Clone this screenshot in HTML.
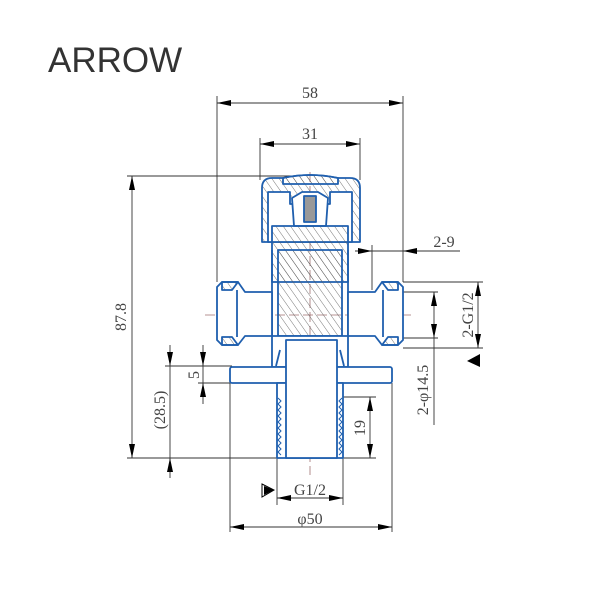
<!DOCTYPE html>
<html><head><style>
html,body{margin:0;padding:0;background:#fff;width:600px;height:600px;overflow:hidden}
svg{display:block}
</style></head><body>
<svg width="600" height="600" viewBox="0 0 600 600" xmlns="http://www.w3.org/2000/svg">
<defs>
<pattern id="h" width="6" height="6" patternUnits="userSpaceOnUse" patternTransform="rotate(-35)"><line x1="0" y1="0" x2="0" y2="6" stroke="#555" stroke-width="0.8"/></pattern>
<marker id="a" viewBox="0 0 14 6" refX="14" refY="3" markerWidth="14" markerHeight="6" orient="auto-start-reverse" markerUnits="userSpaceOnUse"><path d="M0,0 L14,3 L0,6 z" fill="#000"/></marker>
</defs>
<text x="48" y="72" font-family="Liberation Sans, sans-serif" font-size="35" fill="#333">ARROW</text>

<g stroke="#333" stroke-width="0.9" fill="none">
<line x1="217" y1="96" x2="217" y2="282"/>
<line x1="403" y1="96" x2="403" y2="282"/>
<line x1="260" y1="138" x2="260" y2="180"/>
<line x1="360" y1="138" x2="360" y2="180"/>
<line x1="127" y1="176" x2="300" y2="176"/>
<line x1="127" y1="458" x2="277" y2="458"/>
<line x1="165" y1="366" x2="232" y2="366"/>
<line x1="198" y1="383" x2="232" y2="383"/>
<line x1="343" y1="397" x2="376" y2="397"/>
<line x1="343" y1="458" x2="376" y2="458"/>
<line x1="277" y1="458" x2="277" y2="505"/>
<line x1="343" y1="458" x2="343" y2="505"/>
<line x1="230" y1="383" x2="230" y2="532"/>
<line x1="392" y1="383" x2="392" y2="532"/>
<line x1="372" y1="245" x2="372" y2="290"/>
<line x1="403" y1="282" x2="483" y2="282"/>
<line x1="403" y1="348" x2="483" y2="348"/>
<line x1="403" y1="292" x2="438" y2="292"/>
<line x1="403" y1="338" x2="438" y2="338"/>
<line x1="434" y1="338" x2="434" y2="425"/>
<line x1="217" y1="103" x2="403" y2="103" marker-start="url(#a)" marker-end="url(#a)"/>
<line x1="260" y1="144" x2="360" y2="144" marker-start="url(#a)" marker-end="url(#a)"/>
<line x1="132" y1="176" x2="132" y2="458" marker-start="url(#a)" marker-end="url(#a)"/>
<line x1="170" y1="345" x2="170" y2="366" marker-end="url(#a)"/>
<line x1="170" y1="366" x2="170" y2="458"/>
<line x1="170" y1="478" x2="170" y2="458" marker-end="url(#a)"/>
<line x1="203" y1="345" x2="203" y2="366" marker-end="url(#a)"/>
<line x1="203" y1="366" x2="203" y2="383"/>
<line x1="203" y1="404" x2="203" y2="383" marker-end="url(#a)"/>
<line x1="370" y1="397" x2="370" y2="458" marker-start="url(#a)" marker-end="url(#a)"/>
<line x1="277" y1="498" x2="343" y2="498" marker-start="url(#a)" marker-end="url(#a)"/>
<line x1="230" y1="527" x2="392" y2="527" marker-start="url(#a)" marker-end="url(#a)"/>
<line x1="478" y1="282" x2="478" y2="348" marker-start="url(#a)" marker-end="url(#a)"/>
<line x1="434" y1="292" x2="434" y2="338" marker-start="url(#a)" marker-end="url(#a)"/>
<line x1="355" y1="251" x2="372" y2="251" marker-end="url(#a)"/>
<line x1="460" y1="251" x2="403" y2="251" marker-end="url(#a)"/>
<line x1="372" y1="251" x2="403" y2="251"/>
</g>
<path d="M262,484 L274,490 L262,497 z" fill="#fff" stroke="#000" stroke-width="1"/>
<path d="M264,486 L274,490 L264,495 z" fill="#000"/>
<path d="M467,361 L480,354 L480,367 z" fill="#000"/>

<g stroke="#a07070" stroke-width="0.8" stroke-dasharray="10,4">
<line x1="310" y1="172" x2="310" y2="475"/>
<line x1="205" y1="315" x2="415" y2="315"/>
</g>

<g stroke="#1f5fae" stroke-width="1.8" fill="none" stroke-linejoin="round">
<path d="M262,242 L262,188 Q262,178 272,178 L283,178 Q310,172 338,178 L350,178 Q360,178 360,188 L360,242 Z" fill="url(#h)"/>
<path d="M268,242 L268,192 L290,192 L290,204 L330,204 L330,192 L352,192 L352,242 Z" fill="#fff"/>
<path d="M283,178 Q310,172 338,178 L338,184 L283,184 Z" fill="url(#h)"/>
<path d="M292,198 L302,192 L318,192 L328,198 L326,226 L294,226 Z" fill="#fff"/>
<rect x="304" y="196" width="12" height="26" fill="#999"/>
<path d="M272,226 L348,226 L348,282 L272,282 Z" fill="url(#h)"/>
<rect x="278" y="250" width="64" height="86" fill="url(#h)"/>
<line x1="272" y1="250" x2="272" y2="336"/>
<line x1="348" y1="250" x2="348" y2="336"/>
<path d="M217,287 L222,282 L238,282 L245,292 L272,292 L272,336 L245,336 L238,345 L222,345 L217,340 Z" fill="#fff"/>
<path d="M222,282 L238,282 L232,290 L222,290 Z" fill="url(#h)"/>
<path d="M222,345 L238,345 L232,337 L222,337 Z" fill="url(#h)"/>
<line x1="237" y1="290" x2="237" y2="337"/>
<path d="M403,287 L398,282 L382,282 L375,292 L348,292 L348,336 L375,336 L382,345 L398,345 L403,340 Z" fill="#fff"/>
<path d="M398,282 L382,282 L388,290 L398,290 Z" fill="url(#h)"/>
<path d="M398,345 L382,345 L388,337 L398,337 Z" fill="url(#h)"/>
<line x1="383" y1="290" x2="383" y2="337"/>
<path d="M272,336 L348,336 L348,367 L272,367 Z" fill="#fff"/>
<rect x="230" y="367" width="162" height="16" rx="2" fill="#fff"/>
<path d="M277,383 L343,383 L343,458 L277,458 Z" fill="#fff"/>
<rect x="286" y="340" width="51" height="118" fill="#fff"/>
<line x1="280" y1="350" x2="276" y2="366"/>
<line x1="340" y1="350" x2="344" y2="366"/>
</g>
<g stroke="#1f5fae" stroke-width="1" fill="none">
<path d="M278,398 l3,3 l-3,3 l3,3 l-3,3 l3,3 l-3,3 l3,3 l-3,3 l3,3 l-3,3 l3,3 l-3,3 l3,3 l-3,3 l3,3 l-3,3 l3,3 l-3,3 l3,3"/>
<path d="M342,398 l-3,3 l3,3 l-3,3 l3,3 l-3,3 l3,3 l-3,3 l3,3 l-3,3 l3,3 l-3,3 l3,3 l-3,3 l3,3 l-3,3 l3,3 l-3,3 l3,3 l-3,3"/>
</g>

<g font-family="Liberation Serif, serif" font-size="16" fill="#444">
<text x="310" y="98" text-anchor="middle">58</text>
<text x="310" y="139" text-anchor="middle">31</text>
<text x="444" y="247" text-anchor="middle">2-9</text>
<text x="310" y="495" text-anchor="middle">G1/2</text>
<text x="310" y="524" text-anchor="middle">φ50</text>
<text transform="translate(126,317) rotate(-90)" text-anchor="middle">87.8</text>
<text transform="translate(165,410) rotate(-90)" text-anchor="middle">(28.5)</text>
<text transform="translate(199,375) rotate(-90)" text-anchor="middle">5</text>
<text transform="translate(365,428) rotate(-90)" text-anchor="middle">19</text>
<text transform="translate(473,315) rotate(-90)" text-anchor="middle">2-G1/2</text>
<text transform="translate(428,390) rotate(-90)" text-anchor="middle">2-φ14.5</text>
</g>
</svg>
</body></html>
